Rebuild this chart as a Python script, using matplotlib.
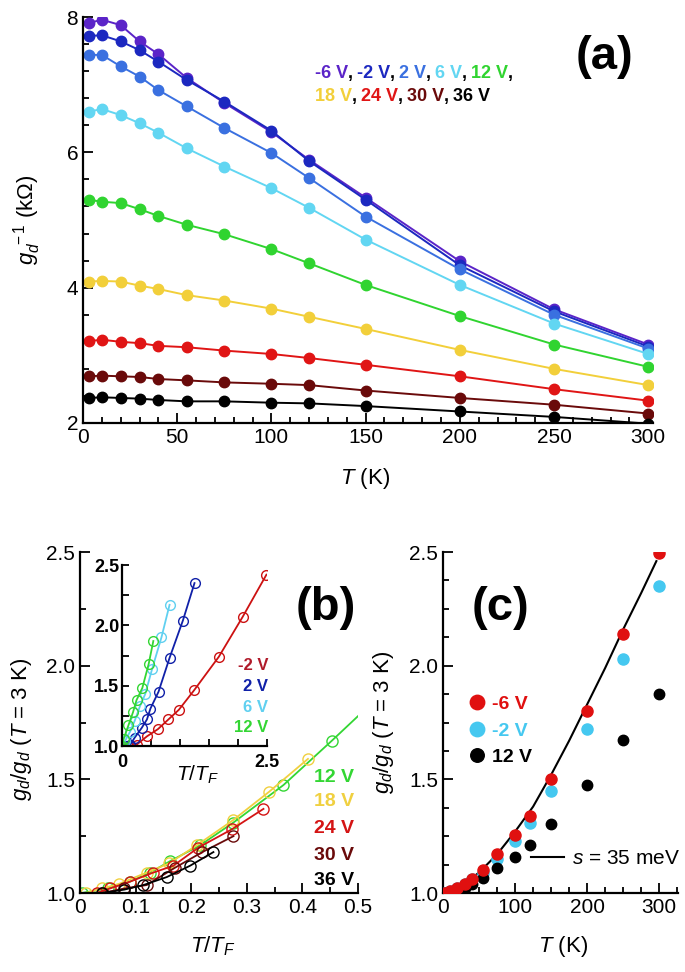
import matplotlib
matplotlib.use("Agg")
import matplotlib.pyplot as plt
from matplotlib.ticker import MultipleLocator
from matplotlib.lines import Line2D

plt.rcParams['font.family'] = ['Liberation Sans', 'DejaVu Sans']
plt.rcParams['mathtext.fontset'] = 'custom'
plt.rcParams['mathtext.rm'] = 'Liberation Sans'
plt.rcParams['mathtext.it'] = 'Liberation Sans:italic'
plt.rcParams['axes.linewidth'] = 1.6

# ---- panel (a): inverse conductance vs T ----
T_a = [3, 10, 20, 30, 40, 55, 75, 100, 120, 150, 200, 250, 300]
gate_a = ['-6 V', '-2 V', '2 V', '6 V', '12 V', '18 V', '24 V', '30 V', '36 V']
col_a = ['#5b24c8', '#1c28c0', '#3a70e0', '#62d6f2', '#30d430', '#f2cf3a', '#e01515', '#6a0a0a', '#000000']
ginv_m6 = [7.91, 7.96, 7.88, 7.64, 7.45, 7.10, 6.73, 6.30, 5.89, 5.33, 4.39, 3.68, 3.16]
ginv_m2 = [7.72, 7.73, 7.64, 7.51, 7.34, 7.07, 6.75, 6.32, 5.87, 5.30, 4.33, 3.65, 3.13]
ginv_p2 = [7.44, 7.44, 7.27, 7.12, 6.92, 6.68, 6.36, 5.99, 5.62, 5.05, 4.27, 3.60, 3.10]
ginv_p6 = [6.60, 6.64, 6.55, 6.43, 6.29, 6.06, 5.79, 5.47, 5.18, 4.71, 4.04, 3.47, 3.02]
ginv_12 = [5.30, 5.27, 5.25, 5.16, 5.06, 4.93, 4.79, 4.57, 4.36, 4.04, 3.58, 3.16, 2.83]
ginv_18 = [4.09, 4.10, 4.09, 4.03, 3.98, 3.89, 3.81, 3.69, 3.57, 3.39, 3.08, 2.80, 2.56]
ginv_24 = [3.21, 3.23, 3.20, 3.18, 3.14, 3.12, 3.07, 3.02, 2.96, 2.86, 2.69, 2.50, 2.33]
ginv_30 = [2.69, 2.70, 2.69, 2.68, 2.65, 2.63, 2.60, 2.58, 2.56, 2.48, 2.37, 2.27, 2.14]
ginv_36 = [2.37, 2.38, 2.37, 2.36, 2.34, 2.32, 2.32, 2.30, 2.29, 2.25, 2.17, 2.09, 1.99]
ginv_all = [ginv_m6, ginv_m2, ginv_p2, ginv_p6, ginv_12, ginv_18, ginv_24, ginv_30, ginv_36]

# ---- panel (b): normalised conductance vs T/TF ----
x_12 = [0.003, 0.05, 0.09, 0.126, 0.162, 0.216, 0.276, 0.366, 0.453, 0.54]
y_12 = [1.0, 1.02, 1.05, 1.09, 1.14, 1.21, 1.31, 1.475, 1.67, 1.87]
x_18 = [0.01, 0.04, 0.07, 0.12, 0.16, 0.21, 0.275, 0.34, 0.41]
y_18 = [1.0, 1.02, 1.04, 1.09, 1.13, 1.21, 1.32, 1.445, 1.59]
x_24 = [0.03, 0.054, 0.09, 0.132, 0.168, 0.213, 0.273, 0.33]
y_24 = [1.0, 1.02, 1.05, 1.09, 1.12, 1.20, 1.28, 1.37]
x_30 = [0.04, 0.08, 0.12, 0.17, 0.22, 0.276]
y_30 = [1.0, 1.02, 1.035, 1.11, 1.18, 1.25]
x_36 = [0.04, 0.08, 0.114, 0.156, 0.198, 0.24]
y_36 = [1.0, 1.015, 1.035, 1.07, 1.12, 1.18]
# inset
xi_m2 = [0.10, 0.25, 0.43, 0.62, 0.80, 0.98, 1.24, 1.67, 2.08, 2.49]
yi_m2 = [1.0, 1.01, 1.08, 1.14, 1.22, 1.30, 1.46, 1.74, 2.07, 2.42]
xi_p2 = [0.05, 0.14, 0.22, 0.34, 0.43, 0.49, 0.63, 0.82, 1.05, 1.25]
yi_p2 = [1.0, 1.01, 1.07, 1.15, 1.22, 1.31, 1.45, 1.73, 2.04, 2.35]
xi_p6 = [0.0, 0.05, 0.14, 0.22, 0.31, 0.40, 0.52, 0.68, 0.82]
yi_p6 = [1.0, 1.04, 1.12, 1.21, 1.33, 1.43, 1.64, 1.90, 2.17]
xi_12 = [0.0, 0.03, 0.11, 0.19, 0.25, 0.35, 0.46, 0.54]
yi_12 = [1.0, 1.06, 1.17, 1.28, 1.38, 1.48, 1.68, 1.87]

# ---- panel (c): normalised conductance vs T ----
T_c = [3, 10, 20, 30, 40, 55, 75, 100, 120, 150, 200, 250, 300]
gc_m6 = [1.0, 1.01, 1.02, 1.04, 1.06, 1.10, 1.17, 1.255, 1.34, 1.50, 1.80, 2.14, 2.495]
gc_m2 = [1.0, 1.01, 1.02, 1.04, 1.06, 1.09, 1.15, 1.23, 1.31, 1.45, 1.72, 2.03, 2.35]
gc_12 = [1.0, 1.0, 1.01, 1.02, 1.04, 1.065, 1.11, 1.16, 1.21, 1.305, 1.475, 1.675, 1.875]
T_fit = [0, 25, 50, 75, 100, 125, 150, 175, 200, 225, 250, 275, 296]
g_fit = [1.0, 1.03, 1.09, 1.17, 1.27, 1.38, 1.52, 1.67, 1.83, 1.99, 2.16, 2.32, 2.46]

W, H = 685, 972
fig = plt.figure(figsize=(W / 100, H / 100), dpi=100)
renderer = fig.canvas.get_renderer()


def frac(x0, y0, x1, y1):
    # pixel box -> figure fraction [left, bottom, width, height]
    return [x0 / W, 1 - y1 / H, (x1 - x0) / W, (y1 - y0) / H]


def style(ax, fs=15):
    for s in ['top', 'right']:
        ax.spines[s].set_visible(False)
    ax.tick_params(which='both', direction='in', labelsize=fs, width=1.3)
    ax.tick_params(which='major', length=7)
    ax.tick_params(which='minor', length=4)


def colour_row(x_px, y_px, items, fs=13):
    # write coloured words one after the other
    for s, c in items:
        t = fig.text(x_px / W, 1 - y_px / H, s, color=c, fontsize=fs,
                     fontweight='bold', va='baseline')
        bb = t.get_window_extent(renderer)
        x_px = bb.x1 + (4 if s == ',' else 0)


# ---------- (a) ----------
axa = fig.add_axes(frac(83, 17, 653, 423))
for g, c, lab in zip(ginv_all, col_a, gate_a):
    axa.plot(T_a, g, '-o', color=c, lw=1.4, ms=7.5, mec=c, label=lab)
axa.set_xlim(0, 302.5)
axa.set_ylim(2, 8)
axa.xaxis.set_major_locator(MultipleLocator(50))
axa.xaxis.set_minor_locator(MultipleLocator(10))
axa.yaxis.set_major_locator(MultipleLocator(2))
axa.yaxis.set_minor_locator(MultipleLocator(0.4))
style(axa)
axa.set_xlabel(r'$T$ (K)', fontsize=16)
axa.xaxis.set_label_coords(0.495, -0.105)
axa.set_ylabel(r'$g_d^{\ -1}$ (k$\Omega$)', fontsize=16)
axa.yaxis.set_label_coords(-0.07, 0.5)
fig.text(0.883, 0.941, '(a)', fontsize=34, fontweight='bold', ha='center', va='center')

row1 = []
for i in range(5):
    row1 += [(gate_a[i], col_a[i]), (',', 'black')]
row2 = []
for i in range(5, 9):
    row2 += [(gate_a[i], col_a[i])] + ([(',', 'black')] if i < 8 else [])
colour_row(315, 78, row1)
colour_row(315, 101, row2)

# ---------- (b) main ----------
axb = fig.add_axes(frac(80, 552, 358, 893))
b_sets = [(x_12, y_12, '#33d633', '12 V'), (x_18, y_18, '#f0d040', '18 V'),
          (x_24, y_24, '#d41414', '24 V'), (x_30, y_30, '#6a0a0a', '30 V'),
          (x_36, y_36, '#000000', '36 V')]
for x, y, c, lab in b_sets:
    axb.plot(x, y, '-o', color=c, lw=1.3, ms=8, mfc='none', mec=c, mew=1.0)
axb.set_xlim(0, 0.5)
axb.set_ylim(1.0, 2.5)
axb.xaxis.set_minor_locator(MultipleLocator(0.05))
axb.yaxis.set_major_locator(MultipleLocator(0.5))
axb.yaxis.set_minor_locator(MultipleLocator(0.25))
axb.set_xticks([0, 0.1, 0.2, 0.3, 0.4, 0.5], ['0', '0.1', '0.2', '0.3', '0.4', '0.5'])
style(axb)
axb.set_xlabel(r'$T/T_F$', fontsize=16)
axb.xaxis.set_label_coords(0.478, -0.12)
axb.set_ylabel(r'$g_d/g_d$ ($T$ = 3 K)', fontsize=16)
axb.yaxis.set_label_coords(-0.165, 0.48)
for (x, y, c, lab), yy in zip(b_sets, [0.34, 0.267, 0.19, 0.111, 0.038]):
    axb.text(0.985, yy, lab, color=c, fontsize=14, fontweight='bold',
             ha='right', va='center', transform=axb.transAxes)
fig.text(0.476, 0.3745, '(b)', fontsize=34, fontweight='bold', ha='center', va='center')

# ---------- (b) inset ----------
axi = fig.add_axes(frac(122, 565, 267, 746))
i_sets = [(xi_m2, yi_m2, '#cc1111', '#b01a2a', '-2 V'), (xi_p2, yi_p2, '#1020a8', '#1020a8', '2 V'),
          (xi_p6, yi_p6, '#60d0f0', '#60d0f0', '6 V'), (xi_12, yi_12, '#33d633', '#33d633', '12 V')]
for x, y, c, tc, lab in i_sets:
    axi.plot(x, y, '-o', color=c, lw=1.3, ms=7, mfc='none', mec=c, mew=1.0)
axi.set_xlim(0, 2.5)
axi.set_ylim(1.0, 2.5)
axi.set_xticks([0, 2.5], ['0', '2.5'])
axi.xaxis.set_minor_locator(MultipleLocator(0.5))
axi.yaxis.set_major_locator(MultipleLocator(0.5))
axi.yaxis.set_minor_locator(MultipleLocator(0.25))
style(axi, fs=13)
for t in axi.get_xticklabels() + axi.get_yticklabels():
    t.set_fontweight('bold')
axi.tick_params(which='major', length=5, pad=2)
axi.tick_params(axis='x', which='major', pad=6)
axi.tick_params(which='minor', length=5)
axi.patch.set_alpha(0)
axi.set_xlabel(r'$T/T_F$', fontsize=15)
axi.xaxis.set_label_coords(0.52, -0.1)
for (x, y, c, tc, lab), yy in zip(i_sets, [0.447, 0.326, 0.21, 0.10]):
    axi.text(1.01, yy, lab, color=tc, fontsize=12, fontweight='bold',
             ha='right', va='center', transform=axi.transAxes)

# ---------- (c) ----------
axc = fig.add_axes(frac(443, 552, 678, 893))
axc.plot(T_fit, g_fit, '-', color='black', lw=1.5)
h1, = axc.plot(T_c, gc_m6, 'o', color='#e01010', ms=8, label='-6 V', zorder=4)
h2, = axc.plot(T_c, gc_m2, 'o', color='#45c8f0', ms=8, label='-2 V', zorder=3)
h3, = axc.plot(T_c, gc_12, 'o', color='black', ms=7.5, label='12 V', zorder=3)
axc.set_xlim(0, 326)
axc.set_ylim(1.0, 2.5)
axc.xaxis.set_major_locator(MultipleLocator(100))
axc.xaxis.set_minor_locator(MultipleLocator(25))
axc.yaxis.set_major_locator(MultipleLocator(0.5))
axc.yaxis.set_minor_locator(MultipleLocator(0.125))
style(axc)
axc.set_xlabel(r'$T$ (K)', fontsize=16)
axc.xaxis.set_label_coords(0.51, -0.12)
axc.set_ylabel(r'$g_d/g_d$ ($T$ = 3 K)', fontsize=16)
axc.yaxis.set_label_coords(-0.2, 0.5)
leg1 = axc.legend(handles=[h1, h2, h3], loc='upper left', bbox_to_anchor=(0.035, 0.63),
                  frameon=False, handlelength=0.8, handletextpad=0.4, labelspacing=0.45,
                  prop={'weight': 'bold', 'size': 14}, markerscale=1.3)
for t, c in zip(leg1.get_texts(), ['#e01010', '#45c8f0', 'black']):
    t.set_color(c)
axc.add_artist(leg1)
axc.legend(handles=[Line2D([], [], color='black', lw=1.5)], labels=[r'$s$ = 35 meV'],
           loc='center right', bbox_to_anchor=(1.09, 0.1), frameon=False,
           handlelength=1.6, handletextpad=0.4, prop={'size': 15})
fig.text(0.730, 0.3745, '(c)', fontsize=34, fontweight='bold', ha='center', va='center')

fig.savefig('out.png', dpi=100)
